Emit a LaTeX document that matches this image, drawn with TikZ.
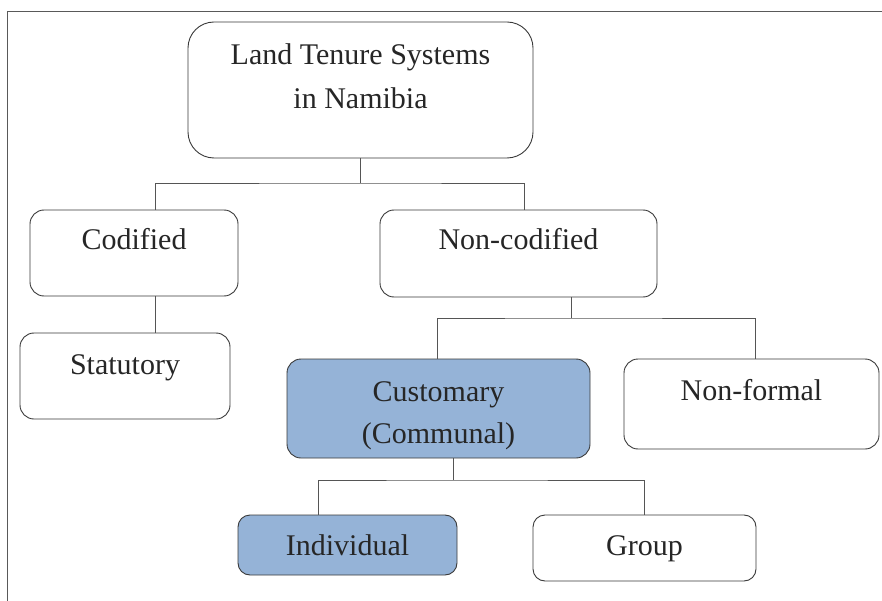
\documentclass[tikz,border=0pt]{standalone}
\usepackage{fontspec}
\setmainfont{Liberation Serif}
\definecolor{edge}{HTML}{3A3A3A}
\definecolor{link}{HTML}{555555}
\definecolor{hl}{HTML}{95B3D7}
\begin{document}
\begin{tikzpicture}[x=1bp,y=-1bp,
  box/.style={draw=edge,line width=0.9bp,rounded corners=#1,inner sep=0pt,fill=white},
  box/.default=14bp,
  lbl/.style={anchor=base,inner sep=0pt,text=black!85,font=\fontsize{30bp}{36bp}\selectfont},
  link/.style={draw=link,line width=0.9bp}]
\useasboundingbox (0,0) rectangle (882,601);
\clip (0,0) rectangle (882,601);
% outer frame, only its top and left sides fall inside the page
\draw[draw=black!65,line width=1.4bp] (7.5,610) -- (7.5,11.5) -- (890,11.5);

% boxes
\node[box=26bp,minimum width=345bp,minimum height=136bp] (root) at (360.5,90) {};
\node[box,minimum width=208bp,minimum height=86bp] (cod) at (134,253) {};
\node[box,minimum width=277bp,minimum height=87bp] (ncod) at (518.5,253.5) {};
\node[box,minimum width=210bp,minimum height=86bp] (stat) at (125,376) {};
\node[box,fill=hl,minimum width=303bp,minimum height=99bp] (cust) at (438.5,408.5) {};
\node[box,minimum width=255bp,minimum height=90bp] (nform) at (751.5,404) {};
\node[box=12bp,fill=hl,minimum width=219bp,minimum height=60bp] (indiv) at (347.5,545) {};
\node[box=12bp,minimum width=223bp,minimum height=66bp] (group) at (644.5,548) {};

% labels
\node[lbl] (t1) at (360.5,65) {Land Tenure Systems};
\node[lbl] (t2) at (360.5,109) {in Namibia};
\node[lbl] (t3) at (134,250) {Codified};
\node[lbl] (t4) at (518.5,250) {Non-codified};
\node[lbl] (t5) at (125,374) {Statutory};
\node[lbl] (t6) at (438.5,401) {Customary};
\node[lbl] (t7) at (438.5,443) {(Communal)};
\node[lbl] (t8) at (751.5,400) {Non-formal};
\node[lbl] (t9) at (347.5,555) {Individual};
\node[lbl] (t10) at (644.5,555) {Group};

% connectors
\coordinate (j1) at (360.5,183);
\coordinate (j2) at (571,318);
\coordinate (j3) at (453,480);
\draw[link] (root.south) -- (j1);
\draw[link] (cod.north -| 155,0) |- (j1) -| (ncod.north -| 524,0);
\draw[link] (cod.south -| 155,0) -- (stat.north -| 155,0);
\draw[link] (ncod.south -| j2) -- (j2);
\draw[link] (cust.north -| 437,0) |- (j2) -| (nform.north -| 755,0);
\draw[link] (cust.south -| j3) -- (j3);
\draw[link] (indiv.north -| 318,0) |- (j3) -| (group.north -| 644,0);
\end{tikzpicture}
\end{document}
